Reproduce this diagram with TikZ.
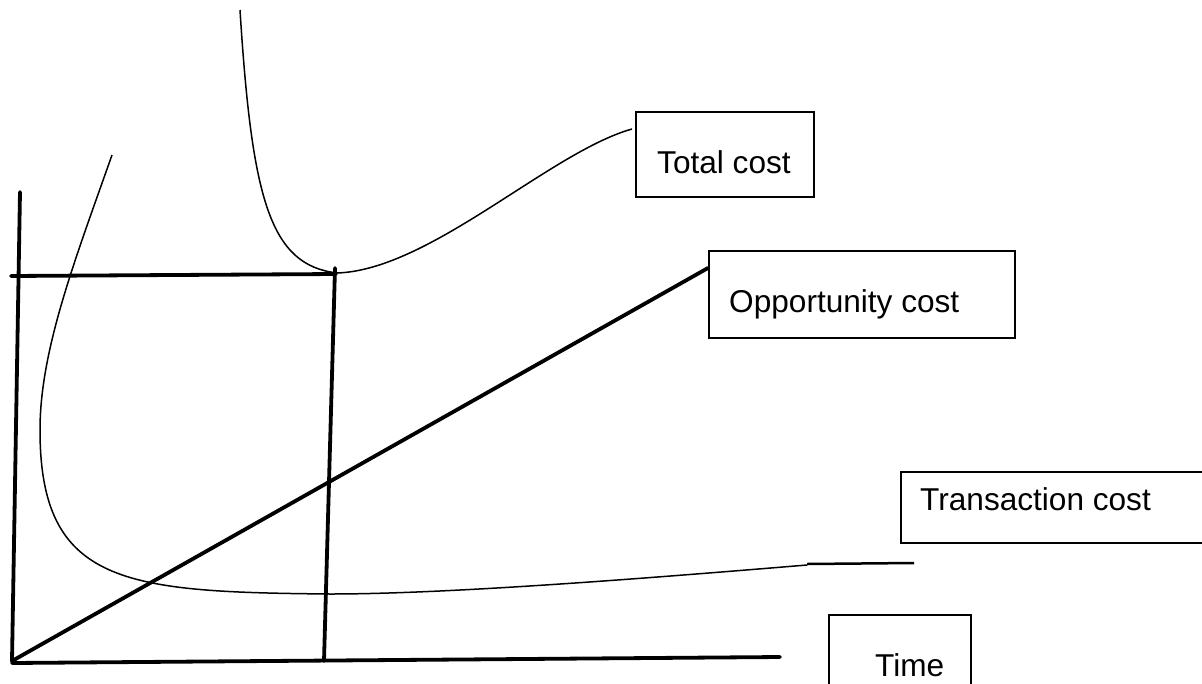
\documentclass[tikz,border=0pt]{standalone}
\usepackage{fontspec}
\setmainfont{Liberation Sans}
\begin{document}
\begin{tikzpicture}[x=1pt,y=-1pt,
  thickline/.style={line width=3.8pt, line cap=round},
  thincurve/.style={line width=1.5pt},
  box/.style={draw, line width=1.5pt, rectangle, inner sep=0pt, anchor=north west},
  lbl/.style={inner sep=0pt, anchor=base west, font=\fontsize{31.6}{38}\selectfont}]
\clip (0,0) rectangle (1202,683);
\fill[white] (0,0) rectangle (1202,683);

% boxes
\node[box, minimum width=178pt, minimum height=85pt] (totalbox) at (635,111) {};
\node[box, minimum width=306pt, minimum height=87pt] (oppbox) at (708,250) {};
\node[box, minimum width=320pt, minimum height=71pt] (transbox) at (900,471) {};
\node[box, minimum width=142pt, minimum height=90pt] (timebox) at (828,614) {};

% labels
\node[lbl] (totaltxt) at (657,173) {Total cost};
\node[lbl] (opptxt) at (729,312) {Opportunity cost};
\node[lbl] (transtxt) at (920,510) {Transaction cost};
\node[lbl] (timetxt) at (875,676) {Time};

% axes
\coordinate (ytop) at (20,192);
\coordinate (origin) at (12,661);
\coordinate (xend) at (780,657);
\draw[thickline] (ytop) -- (origin);
\draw[thickline] (12,663) -- (xend);

% optimum lines
\coordinate (hl) at (11,276);
\coordinate (opt) at (336,274);
\coordinate (optbase) at (324,661);
\draw[thickline] (hl) -- (opt);
\draw[thickline] (335,268) -- (optbase);

% opportunity cost line
\coordinate (oppend) at (oppbox.west |- 0,268);
\draw[thickline] (origin) -- (oppend);

% total cost curve
\coordinate (tctop) at (240,10);
\coordinate (tcmin) at (337,273);
\coordinate (tcend) at (632,129);
\draw[thincurve] (tctop) .. controls (252,200) and (270,265) .. (tcmin)
  .. controls (430,270) and (550,152) .. (tcend);

% transaction cost curve
\coordinate (trtop) at (112,155);
\coordinate (trleft) at (40,430);
\coordinate (trlow) at (330,594);
\coordinate (trend) at (807,565);
\coordinate (trtail) at (914,563);
\draw[thincurve] (trtop) .. controls (75,260) and (40,350) .. (trleft)
  .. controls (40,585) and (125,592) .. (trlow)
  .. controls (450,594) and (650,578) .. (trend);
\draw[line width=2.5pt] (807,564) -- (trtail);
\end{tikzpicture}
\end{document}
